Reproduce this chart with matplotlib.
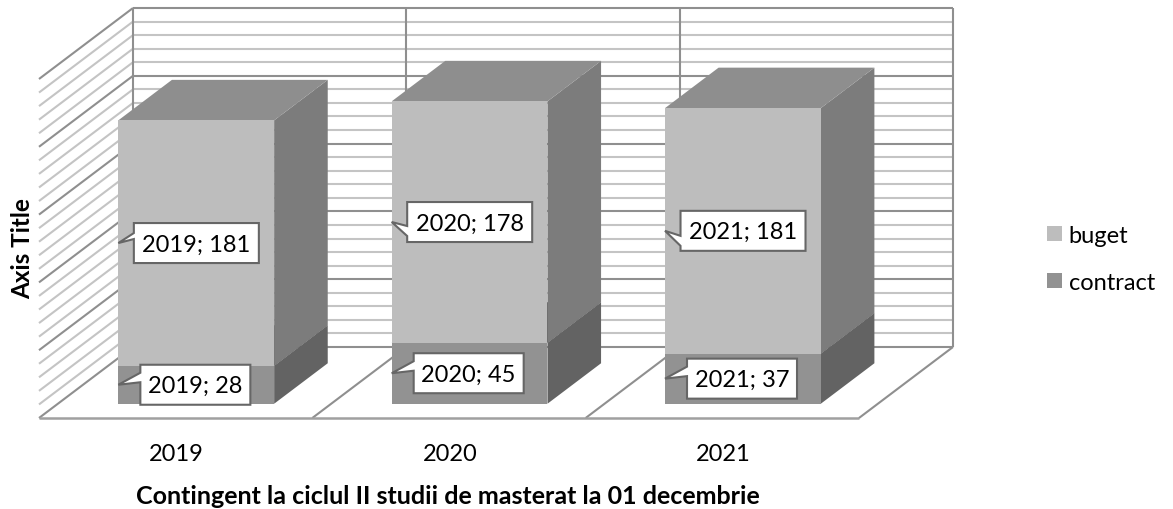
import matplotlib
matplotlib.use('Agg')
import matplotlib.pyplot as plt
from matplotlib.patches import Polygon, Patch

years = ['2019', '2020', '2021']
buget = [181, 178, 181]
contract = [28, 45, 37]
axis_max = 250
major_step = 50
minor_step = 10

W, H = 1173, 510
# pixels of one category slot / one value unit
sx = 273.33
sy = 1.356
x0_px, y0_px = 39, 419
# full depth of the 3d box, in data units
depth_x = 94 / sx
depth_y = 71 / sy
bar_x0 = 0.2212
bar_w = 0.57
bar_d0, bar_d1 = 0.201, 0.771

plt.rcParams['font.family'] = ['Lato', 'DejaVu Sans']
fig = plt.figure(figsize=(W / 100, H / 100), dpi=100)
ax = fig.add_axes([0, 0, 1, 1])
ax.set_xlim(-x0_px / sx, (W - x0_px) / sx)
ax.set_ylim((y0_px - H) / sy, y0_px / sy)
ax.axis('off')


def pr(x, y, d):
    return x + d * depth_x, y + d * depth_y


def seg(a, b, **kw):
    ax.plot([a[0], b[0]], [a[1], b[1]], solid_capstyle='butt', **kw)


n = len(years)
minor = dict(color='#c4c4c4', lw=1.5, zorder=1)
major = dict(color='#8f8f8f', lw=1.5, zorder=2)
for v in range(0, axis_max + 1, minor_step):
    st = major if v % major_step == 0 else minor
    seg(pr(0, v, 1), pr(n, v, 1), **st)
    seg(pr(0, v, 0), pr(0, v, 1), **st)
# walls and floor
seg(pr(0, 0, 1), pr(0, axis_max, 1), **major)
seg(pr(n, 0, 1), pr(n, axis_max, 1), **major)
for i in range(1, n):
    seg(pr(i, 0, 1), pr(i, axis_max, 1), **major)
    seg(pr(i, 0, 0), pr(i, 0, 1), **major)
seg(pr(0, 0, 0), pr(n, 0, 0), color='#a0a0a0', lw=1.8, zorder=2)
seg(pr(n, 0, 0), pr(n, 0, 1), **major)


def box(i, lo, hi, front, side, top):
    xl = i + bar_x0
    xr = xl + bar_w
    a = pr(xl, lo, bar_d0)
    ax.bar(a[0], hi - lo, width=bar_w, bottom=a[1], align='edge', color=front, lw=0, zorder=5)
    ax.add_patch(Polygon([pr(xr, lo, bar_d0), pr(xr, lo, bar_d1), pr(xr, hi, bar_d1), pr(xr, hi, bar_d0)],
                         fc=side, lw=0, zorder=4))
    ax.add_patch(Polygon([pr(xl, hi, bar_d0), pr(xr, hi, bar_d0), pr(xr, hi, bar_d1), pr(xl, hi, bar_d1)],
                         fc=top, lw=0, zorder=4))
    return a[0], a[1] + (hi - lo) / 2


def callout(tip, text, gap, w, base):
    # sizes in pixels, tail goes from the box's left side to the bar's edge
    left = tip[0] + gap / sx
    right = left + w / sx
    top = tip[1] + 20 / sy
    bot = tip[1] - 20 / sy
    pts = [tip, (left, top - base[0] / sy), (left, top), (right, top), (right, bot), (left, bot),
           (left, top - base[1] / sy)]
    ax.add_patch(Polygon(pts, fc='white', ec='#666666', lw=1.5, zorder=7, joinstyle='miter'))
    ax.text((left + right) / 2, tip[1] - 1 / sy, text, ha='center', va='center', fontsize=17, color='black', zorder=8)


tails_b = [(10, 16), (24, 34), (25, 35)]
tails_c = [(8, 17.5), (8, 17.5), (8, 17.5)]
for i in range(n):
    tot = contract[i] + buget[i]
    t1 = box(i, 0, contract[i], '#929292', '#636363', '#636363')
    t2 = box(i, contract[i], tot, '#bdbdbd', '#7c7c7c', '#8e8e8e')
    callout(t2, f'{years[i]}; {buget[i]}', 15.5, 125, tails_b[i])
    callout(t1, f'{years[i]}; {contract[i]}', 22, 110, tails_c[i])
    ax.text(i + 0.503, (y0_px - 455) / sy, years[i], ha='center', va='center', fontsize=17)

ax.text(1.495, (y0_px - 496.5) / sy, 'Contingent la ciclul II studii de masterat la 01 decembrie',
        ha='center', va='center', fontsize=18, fontweight='bold')
ax.text((23 - x0_px) / sx, (y0_px - 249) / sy, 'Axis Title', rotation=90, ha='center', va='center',
        fontsize=17.5, fontweight='bold')

handles = [Patch(fc='#bdbdbd', lw=0), Patch(fc='#929292', lw=0)]
ax.legend(handles, ['buget', 'contract'], loc='center left', bbox_to_anchor=(1047 / W, 1 - 260 / H),
          frameon=False, fontsize=17, handlelength=0.62, handleheight=0.62, handletextpad=0.3,
          labelspacing=1.1, borderpad=0, borderaxespad=0)

fig.savefig('out.png', dpi=100)
